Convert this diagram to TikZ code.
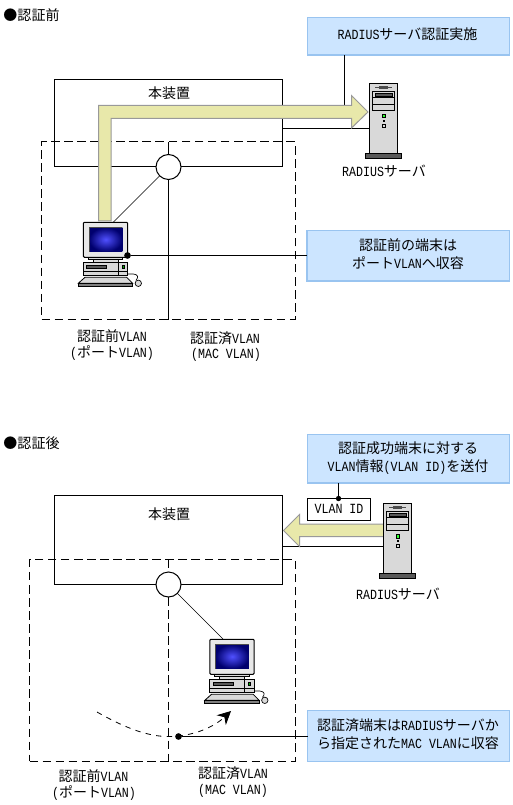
\documentclass[tikz,border=0pt]{standalone}
\usepackage{fontspec}
\usetikzlibrary{fit,arrows.meta,shadings}
\setmainfont{Noto Sans CJK JP}
\newfontfamily\ltfont[FakeStretch=0.83]{Liberation Mono}
\newcommand\lat[1]{{\ltfont #1}}
\definecolor{bluefill}{HTML}{CCE5FF}
\definecolor{blueedge}{HTML}{99C4F0}
\definecolor{flow}{HTML}{E8E8AA}
\definecolor{flowedge}{HTML}{999999}
\definecolor{metal}{HTML}{D9D9D9}
\definecolor{darkbase}{HTML}{595959}
\tikzset{
  x=0.75pt,y=-0.75pt,
  every node/.style={font=\fontsize{10.5}{13.5}\selectfont,inner sep=0pt,outer sep=0pt,align=center},
  wire/.style={draw=black,line width=0.75pt},
  thinwire/.style={draw=black,line width=0.5pt},
  dashline/.style={draw=black,line width=0.75pt,dash pattern=on 6.5pt off 3.3pt},
  bluebox/.style={draw=blueedge,fill=bluefill,line width=0.8pt},
  plainbox/.style={draw=black,line width=0.75pt},
  dashbox/.style={dashline},
  hub/.style={circle,draw=black,fill=white,line width=0.75pt,minimum size=18.75pt},
  flowarrow/.style={draw=flowedge,fill=flow,line width=0.75pt},
  blackdot/.style={circle,fill=black,minimum size=5pt},
  pcpart/.style={draw=black,fill=metal,line width=0.6pt},
  pics/pc/.style={code={
    \draw[pcpart] (-5.2,60.8) -- (1.5,54.8) -- (43.2,54.8) -- (49.2,60.8) -- cycle;
    \draw[draw=black,fill=darkbase!70!metal,line width=0.6pt] (-5.2,60.8) rectangle (49.2,64.2);
    \draw[pcpart] (9.5,37.2) rectangle (34.5,39.5);
    \draw[pcpart] (-0.2,39.5) rectangle (44.2,52.8);
    \draw[draw=black,fill=darkbase,line width=0.4pt] (3.2,42.8) rectangle (23.2,46.2);
    \draw[black,line width=0.6pt] (-0.2,48.5) -- (44.2,48.5) (34.8,39.5) -- (34.8,52.8);
    \draw[draw=black,fill=green!70!black,line width=0.4pt] (38.5,42.8) rectangle (40.5,45.5);
    \draw[pcpart] (4.8,34.8) rectangle (39.2,37.2);
    \draw[draw=black,fill=metal!60!white,line width=0.8pt,rounded corners=0.8pt] (-0.2,-0.2) rectangle (44.2,34.8);
    \path[inner color={rgb,255:red,80;green,80;blue,255},outer color={rgb,255:red,0;green,0;blue,110}]
      (5.5,4.8) rectangle (38.8,29.2);
    \draw[black!70,line width=0.7pt] (5.5,29.2) -- (5.5,4.8) -- (38.8,4.8);
    \draw[black,line width=0.5pt] (44.2,51.5) -- (49.8,51.5) .. controls (55,52) and (55,55) .. (52.5,57.8);
    \draw[draw=black,fill=metal,line width=0.5pt] (54.8,60.8) circle[radius=3.2];
  }},
  pics/srv/.style={code={
    \draw[draw=black,fill=metal,line width=0.75pt] (0,0) rectangle (28.2,70);
    \draw[draw=black,fill=darkbase,line width=0.6pt] (-4,70) rectangle (32.2,75);
    \draw[black!70,line width=0.5pt] (5.6,4) -- (22.3,4);
    \draw[black!70,line width=1.6pt] (9.6,4) -- (18.6,4);
    \draw[draw=black,fill=metal,line width=0.6pt] (2.9,8) rectangle (25.3,27);
    \draw[black,line width=0.6pt] (2.9,14) -- (25.3,14) (2.9,21) -- (25.3,21);
    \draw[draw=black,fill=darkbase,line width=0.5pt] (5.6,10) rectangle (23.3,13.2);
    \draw[draw=black,fill=green!80!white,line width=0.6pt] (13,31) rectangle (16.3,34.4);
    \fill[black] (13,36.8) rectangle (15.8,38.4);
    \draw[draw=black,fill=metal,line width=0.5pt] (13.2,41) rectangle (15.6,43.4);
  }},
}
\begin{document}
\begin{tikzpicture}
\useasboundingbox[fill=white] (0,0) rectangle (512,805);

% ---------- before authentication ----------
\node[anchor=west] (t1) at (3.5,15.5) {●認証前};
\node[fit={(307.5,17.5)(509.5,55)},bluebox] (b1) {};
\node (b1t) at (407.5,34.5) {\lat{RADIUS}サーバ認証実施};
\node[fit={(54.5,79.5)(282.5,167)},plainbox] (m1) {};
\node (m1t) at (169,93) {本装置};
\node[fit={(41.5,142)(295,319.5)},dashbox] (d1) {};
\coordinate (a1) at (344,112);
\coordinate (sa) at (369.5,129);
\coordinate (va) at (168.5,142);
\coordinate (vb) at (168.5,319.5);
\draw[wire] (b1.south -| a1) -- (a1);
\draw[wire] (m1.east |- sa) -- (sa);
\node[hub] (h1) at (168.5,167) {};
\draw[wire] (va) -- (h1) (h1) -- (vb);
\pic at (83.5,222.5) {pc};
\coordinate (pc1) at (113,222.5);
\draw[thinwire] (h1) -- (pc1);
\draw[flowarrow] (98.5,221) -- (98.5,105.5) -- (351.5,105.5) -- (351.5,95.5) -- (368,112) -- (351.5,128) -- (351.5,118.5) -- (111,118.5) -- (111,221) -- cycle;
\pic at (369.5,83.5) {srv};
\node (s1t) at (384,171) {\lat{RADIUS}サーバ};
\node[fit={(307,230.5)(509.5,281)},bluebox] (b2) {};
\node (b2t) at (408,254) {認証前の端末は\\ポート\lat{VLAN}へ収容};
\node[blackdot] (p1) at (127.5,255.5) {};
\draw[wire] (p1) -- (b2.west |- p1);
\node (l1) at (112,336.5) {認証前\lat{VLAN}};
\node (l2) at (112,353.5) {\lat{(}ポート\lat{VLAN)}};
\node (l3) at (225,338) {認証済\lat{VLAN}};
\node (l4) at (226,355) {\lat{(MAC VLAN)}};

% ---------- after authentication ----------
\node[anchor=west] (t2) at (3.5,443.5) {●認証後};
\node[fit={(307.5,434.5)(509.5,483)},bluebox] (b3) {};
\node (b3t) at (408,458) {認証成功端末に対する\\\lat{VLAN}情報\lat{(VLAN ID)}を送付};
\node[fit={(307.5,498.5)(370.5,520.5)},plainbox,fill=white] (v1) {};
\node (v1t) at (339,509) {\lat{VLAN ID}};
\node[blackdot,minimum size=4pt] (p2) at (338.5,498.5) {};
\draw[wire] (b3.south -| p2) -- (p2);
\node[fit={(54.5,495.5)(282.5,584)},plainbox] (m2) {};
\node (m2t) at (169,514) {本装置};
\coordinate (sb) at (383.5,546.5);
\draw[wire] (m2.east |- sb) -- (sb);
\draw[flowarrow] (383.5,524) -- (299.5,524) -- (299.5,514.5) -- (283.5,530.5) -- (299.5,546.5) -- (299.5,536.5) -- (383.5,536.5) -- cycle;
\pic at (383.5,503.5) {srv};
\node (s2t) at (398,594) {\lat{RADIUS}サーバ};
\node[fit={(29.5,559.5)(295,761)},dashbox] (d2) {};
\node[hub] (h2) at (168.5,584.5) {};
\coordinate (pc2) at (223,639);
\coordinate (vc) at (168.5,559.5);
\coordinate (vd) at (168.5,761);
\draw[dashline] (vc) -- (h2) (h2) -- (vd);
\draw[thinwire] (h2) -- (pc2);
\pic at (210,639.5) {pc};
\node[fit={(307.5,710.5)(509.5,761.5)},bluebox] (b4) {};
\node (b4t) at (408,734) {認証済端末は\lat{RADIUS}サーバか\\ら指定された\lat{MAC VLAN}に収容};
\node[blackdot] (p3) at (178.5,736.5) {};
\draw[wire] (p3) -- (b4.west |- p3);
\coordinate (c1) at (97,712);
\coordinate (c2) at (231,711);
\draw[black,line width=0.6pt,dash pattern=on 4pt off 4pt,-{Stealth[length=10pt,width=10pt]}]
  (c1) .. controls (125,728) and (148,736.5) .. (168,736.5)
       .. controls (195,736.5) and (215,726) .. (c2);
\node (l5) at (93.5,776) {認証前\lat{VLAN}};
\node (l6) at (94,792.5) {\lat{(}ポート\lat{VLAN)}};
\node (l7) at (233,773.5) {認証済\lat{VLAN}};
\node (l8) at (233,790.5) {\lat{(MAC VLAN)}};
\end{tikzpicture}
\end{document}
